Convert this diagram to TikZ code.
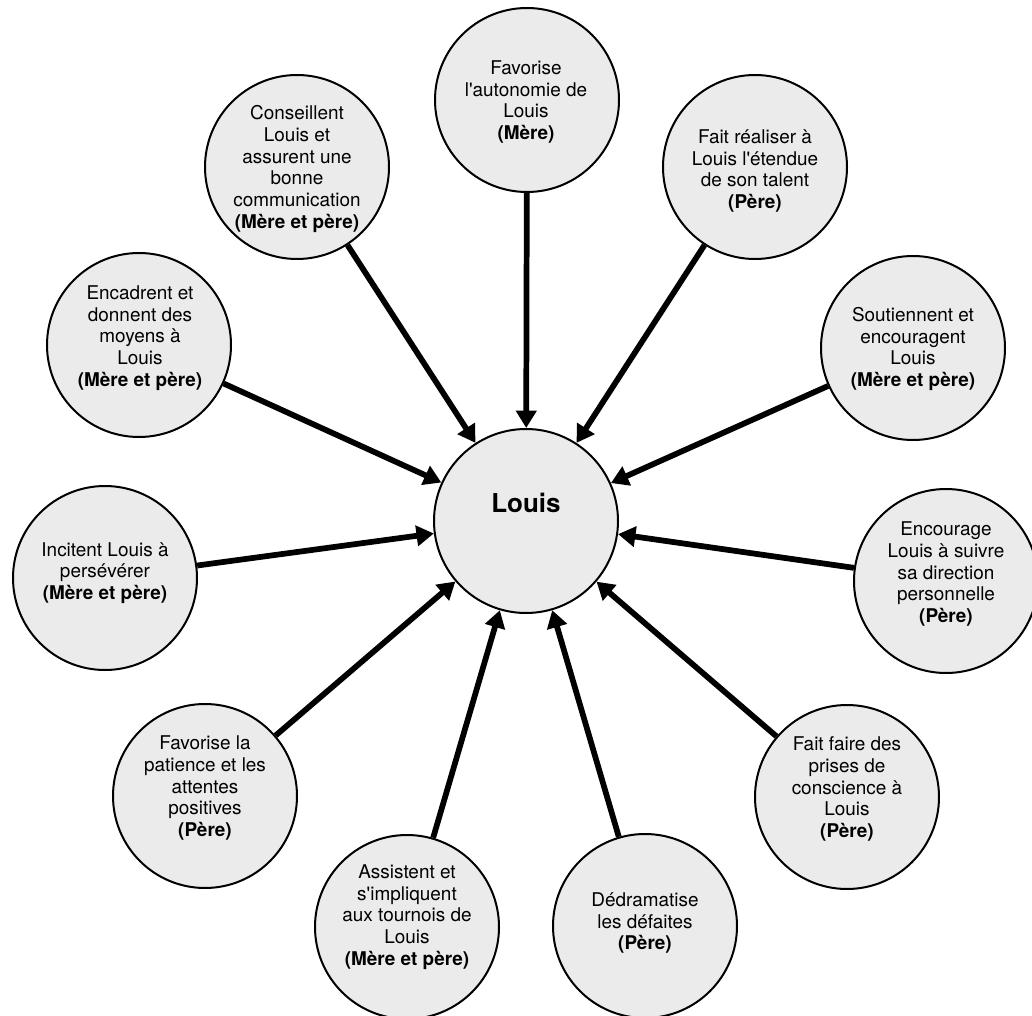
\documentclass[tikz,border=0pt]{standalone}
\usepackage{fontspec}
\setmainfont{TeX Gyre Heros}
\usetikzlibrary{arrows.meta}
\definecolor{bubblegray}{RGB}{235,235,235}
\newcommand{\apos}{\textquotesingle}
\begin{document}
\begin{tikzpicture}[x=0.75pt,y=-0.75pt,
  bubble/.style={circle, draw=black, line width=1.5pt, fill=bubblegray,
                 minimum size=138pt, inner sep=0pt},
  lbl/.style={align=center, inner sep=0pt,
              font=\fontsize{14.2}{16.3}\selectfont},
  link/.style={line width=4.3pt, -{Triangle[length=13pt,width=15pt]}}
]
\useasboundingbox (0,0) rectangle (1032,1016);

% central circle
\node[bubble] (hub) at (526,521) {};
\node[lbl, font=\bfseries\fontsize{19.5}{22}\selectfont] (hubt) at (526,503) {Louis};

% surrounding circles
\node[bubble] (c1)  at (527,100) {};
\node[bubble] (c2)  at (755,167) {};
\node[bubble] (c3)  at (913,348) {};
\node[bubble] (c4)  at (946,581) {};
\node[bubble] (c5)  at (847,797) {};
\node[bubble] (c6)  at (645,926) {};
\node[bubble] (c7)  at (407,927) {};
\node[bubble] (c8)  at (205,796) {};
\node[bubble] (c9)  at (105,578) {};
\node[bubble] (c10) at (139,345) {};
\node[bubble] (c11) at (297,167) {};

% labels
\node[lbl] (t1)  at (526,102) {Favorise\\l\apos autonomie de\\Louis\\\textbf{(Mère)}};
\node[lbl] (t2)  at (755,171) {Fait réaliser à\\Louis l\apos étendue\\de son talent\\\textbf{(Père)}};
\node[lbl] (t3)  at (913,349) {Soutiennent et\\encouragent\\Louis\\\textbf{(Mère et père)}};
\node[lbl] (t4)  at (946,574) {Encourage\\Louis à suivre\\sa direction\\personnelle\\\textbf{(Père)}};
\node[lbl] (t5)  at (847,789) {Fait faire des\\prises de\\conscience à\\Louis\\\textbf{(Père)}};
\node[lbl] (t6)  at (645,923) {Dédramatise\\les défaites\\\textbf{(Père)}};
\node[lbl] (t7)  at (407,917) {Assistent et\\s\apos impliquent\\aux tournois de\\Louis\\\textbf{(Mère et père)}};
\node[lbl] (t8)  at (205,788) {Favorise la\\patience et les\\attentes\\positives\\\textbf{(Père)}};
\node[lbl] (t9)  at (105,573) {Incitent Louis à\\persévérer\\\textbf{(Mère et père)}};
\node[lbl] (t10) at (140,338) {Encadrent et\\donnent des\\moyens à\\Louis\\\textbf{(Mère et père)}};
\node[lbl] (t11) at (297,169) {Conseillent\\Louis et\\assurent une\\bonne\\communication\\\textbf{(Mère et père)}};

% connectors
\foreach \i in {1,...,11}
  \draw[link] (c\i) -- (hub);
\end{tikzpicture}
\end{document}
